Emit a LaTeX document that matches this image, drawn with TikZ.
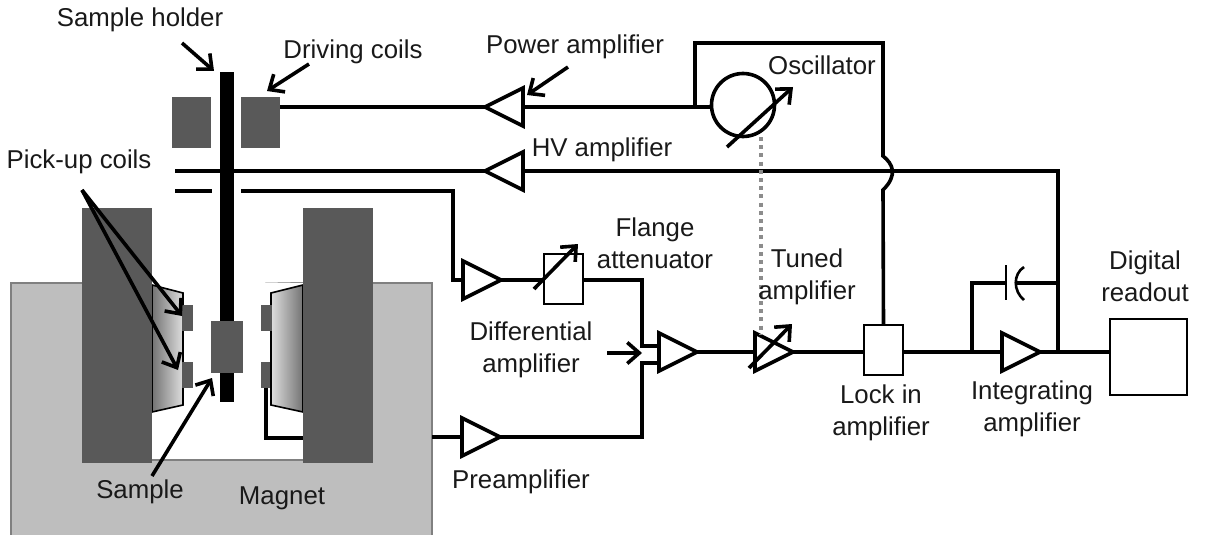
\documentclass[tikz,border=0pt]{standalone}
\usepackage{fontspec}
\setmainfont{Liberation Sans}
\usetikzlibrary{shapes.geometric,arrows.meta,calc}
\definecolor{coilgray}{HTML}{595959}
\definecolor{magnetgray}{HTML}{BEBEBE}
\tikzset{
  x=1pt,y=-1pt,
  wire/.style={line width=3.6pt,line cap=butt,line join=miter},
  ptr/.style={line width=3.6pt,-{Straight Barb[length=12pt,width=21pt,line width=3.6pt]}},
  label/.style={font=\fontsize{25.8}{32}\selectfont,align=center,inner sep=0pt,text=black!90},
  amp/.style={draw=black,fill=white,line width=3.6pt,isosceles triangle,isosceles triangle stretches,minimum width=38pt,minimum height=38pt,inner sep=0pt,outer sep=0pt,anchor=apex},
  ampL/.style={amp,shape border rotate=180},
  whitebox/.style={draw=black,fill=white,line width=2.8pt,rectangle,inner sep=0pt,outer sep=0pt},
  solid block/.style={fill=coilgray,rectangle,inner sep=0pt,outer sep=0pt},
  pole/.style={solid block,minimum width=70pt,minimum height=255pt},
  drive/.style={solid block,minimum width=39pt,minimum height=51pt},
  pickup/.style={solid block,minimum width=11pt,minimum height=26pt},
  vary/.style={ptr},
}
\begin{document}
\begin{tikzpicture}
\useasboundingbox (0,0) rectangle (1208,535);
\clip (0,0) rectangle (1208,535);
% magnet
\path[fill=magnetgray,draw=black!50,line width=1.2pt]
  (11,545) -- (11,283) -- (432,283) -- (432,545) -- cycle;
\fill[white] (152,283) -- (152,460) -- (303,460) -- (303,283) -- (152,280) -- cycle;
\draw[black!50,line width=1.2pt] (152,460) -- (303,460);
\fill[white] (140,270) rectangle (320,282.3);
% pick-up wire (behind the pole)
\node[pickup] (pr2) at (266,374.5) {};
\coordinate (pw1) at (266,438);
\coordinate (pw2) at (320,438);
\draw[wire] (pr2.south) -- (pw1) -- (pw2);
% trapezoids
\draw[line width=1.6pt,left color=black!55,right color=black!13]
  (152,285) -- (183,293) -- (183,405) -- (152,412) -- cycle;
\draw[line width=1.6pt,left color=black!13,right color=black!55]
  (303,285) -- (271,293) -- (271,405) -- (303,412) -- cycle;
% poles
\node[pole] (poleL) at (117,335.5) {};
\node[pole] (poleR) at (338,335.5) {};
\node[pickup] (pl1) at (187.5,318) {};
\node[pickup] (pl2) at (187.5,375) {};
\node[pickup] (pr1) at (266,318) {};
% driving coils
\node[drive] (driveL) at (191.5,122.5) {};
\node[drive] (driveR) at (260.5,122.5) {};
% amplifiers
\node[ampL] (pa) at (485,107) {};
\node[ampL] (hv) at (485,171) {};
\node[amp] (da1) at (501,280) {};
\node[amp] (pre) at (500,437) {};
\node[amp] (da) at (697,352) {};
\node[amp] (ta) at (793,352) {};
\node[amp] (ia) at (1040,352) {};
% boxes
\node[whitebox,minimum width=39pt,minimum height=50pt] (fl) at (563.5,279) {};
\node[whitebox,minimum width=39pt,minimum height=50pt] (li) at (883.5,350) {};
\node[whitebox,minimum width=77pt,minimum height=76pt] (dr) at (1148.5,357) {};
\node[draw=black,fill=none,circle,line width=3.6pt,minimum size=63pt,inner sep=0pt,outer sep=0pt] (osc) at (743,105) {};
% junctions
\coordinate (j1) at (695,107);
\coordinate (j1t) at (695,43);
\coordinate (j2t) at (883,43);
\coordinate (b1) at (883,156);
\coordinate (b2) at (883,190);
\coordinate (w1) at (175,171);
\coordinate (w2) at (175,191);
\coordinate (w3) at (212,191);
\coordinate (w4) at (241,191);
\coordinate (w5) at (453,191);
\coordinate (hvr) at (1058,171);
\coordinate (iao) at (1058,352);
\coordinate (fb) at (972,352);
\coordinate (fbt) at (972,283);
\coordinate (capA) at (1006,283);
\coordinate (capB) at (1015,283);
\coordinate (fbj) at (1058,283);
\coordinate (sum) at (642,280);
\coordinate (dup) at (642,345.8);
\coordinate (dlo) at (642,363);
\coordinate (dbot) at (642,437);
\coordinate (prew) at (432,437);
% wires
\draw[wire] (driveR.east |- pa.apex) -- (pa.apex);
\draw[wire] (pa.lower side) -- (osc.west |- pa.lower side);
\draw[wire] (j1) -- (j1t) -- (j2t) -- (b1) .. controls (893,164) and (898,175) .. (b2) -- (li.north);
\draw[wire] (w1) -- (hv.apex);
\draw[wire] (hv.lower side) -- (hvr) -- (iao);
\draw[wire] (w2) -- (w3);
\draw[wire] (w4) -- (w5) -- (w5 |- da1.lower side) -- (da1.lower side);
\draw[wire] (da1.apex) -- (fl.west |- da1.apex);
\draw[wire] (fl.east |- sum) -- (sum) -- (dup) -- (dup -| da.lower side);
\draw[wire] (dlo -| da.lower side) -- (dlo) -- (dbot) -- (pre.apex);
\draw[wire] (prew) -- (pre.lower side);
\draw[wire] (da.apex) -- (ta.lower side);
\draw[wire] (ta.apex) -- (li.west |- ta.apex);
\draw[wire] (li.east |- ia.lower side) -- (ia.lower side);
\draw[wire] (ia.apex) -- (dr.west |- ia.apex);
\draw[wire] (fb) -- (fbt) -- (capA);
\draw[wire] (capB) -- (fbj);
% capacitor
\coordinate (capT) at (1006,265);
\coordinate (capD) at (1006,300);
\coordinate (cap2T) at (1024,267);
\coordinate (cap2D) at (1024,300);
\draw[line width=2.6pt] (capT) -- (capD);
\draw[line width=2.6pt] (cap2T) .. controls (1013,274) and (1013,291) .. (cap2D);
% holder and sample
\fill[black] (220,72) rectangle (234,402);
\node[solid block,minimum width=32pt,minimum height=52pt] (sm) at (227,347) {};
% dotted link
\draw[black!45,line width=4pt,dash pattern=on 4pt off 4.2pt] (761,137) -- (761,334);
% variable arrows
\coordinate (fa) at (534,289); \coordinate (fb2) at (578,244);
\coordinate (oa) at (727,147); \coordinate (ob) at (793,87);
\coordinate (ta1) at (749,368); \coordinate (ta2) at (792,324);
\draw[vary] (fa) -- (fb2);
\draw[vary] (oa) -- (ob);
\draw[vary] (ta1) -- (ta2);
% labels
\node[label] (lsh) at (140,20) {Sample holder};
\node[label] (ldc) at (353,52) {Driving coils};
\node[label] (lpa) at (575,47) {Power amplifier};
\node[label] (los) at (822,65) {Oscillator};
\node[label] (lhv) at (602,150) {HV amplifier};
\node[label] (lpc) at (79,162) {Pick-up coils};
\node[label] (lfl) at (655,243.5) {Flange\\attenuator};
\node[label] (lta) at (807,277) {Tuned\\amplifier};
\node[label] (lda) at (531,350) {Differential\\amplifier};
\node[label] (lli) at (881,412.5) {Lock in\\amplifier};
\node[label] (lia) at (1032,408.5) {Integrating\\amplifier};
\node[label] (ldr) at (1145,276.5) {Digital\\readout};
\node[label] (lpr) at (521,482) {Preamplifier};
\node[label] (lsa) at (140,492) {Sample};
\node[label] (lma) at (282,498) {Magnet};
% pointers
\coordinate (a1) at (182,43); \coordinate (a1e) at (214,71);
\coordinate (a2) at (309,64); \coordinate (a2e) at (267,91);
\coordinate (a3) at (568,67); \coordinate (a3e) at (527,95);
\coordinate (a4) at (82,190); \coordinate (a4e) at (182,316); \coordinate (a5e) at (178,370);
\coordinate (a6) at (152,476); \coordinate (a6e) at (212,378);
\coordinate (a7) at (607,353); \coordinate (a7e) at (642,353);
\draw[ptr] (a1) -- (a1e);
\draw[ptr] (a2) -- (a2e);
\draw[ptr] (a3) -- (a3e);
\draw[ptr] (a4) -- (a4e);
\draw[ptr] (a4) -- (a5e);
\draw[ptr] (a6) -- (a6e);
\draw[ptr] (a7) -- (a7e);
\end{tikzpicture}
\end{document}
